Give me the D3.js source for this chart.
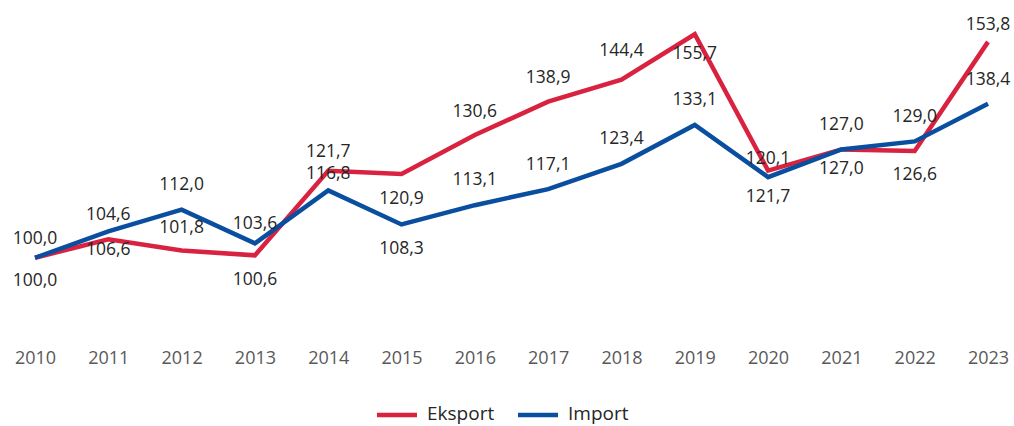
<!DOCTYPE html>
<html>
<head>
<meta charset="utf-8">
<script src="https://cdn.jsdelivr.net/npm/d3@7"></script>
<style>
  body { margin: 0; background: #fff; }
  svg { display: block; font-family: "Open Sans", sans-serif; }
</style>
</head>
<body>
<div id="chart"></div>
<script>
var years = ["2010", "2011", "2012", "2013", "2014", "2015", "2016",
             "2017", "2018", "2019", "2020", "2021", "2022", "2023"];
var eksport = [100.0, 104.6, 101.8, 100.6, 121.7, 120.9, 130.6,
               138.9, 144.4, 155.7, 121.7, 127.0, 126.6, 153.8];
var importV = [100.0, 106.6, 112.0, 103.6, 116.8, 108.3, 113.1,
               117.1, 123.4, 133.1, 120.1, 127.0, 129.0, 138.4];
var seriesNames = ["Eksport", "Import"];

// where each value label sits relative to its point (px, + = below)
var eksportLabelDy = [21, -26, -25, 23, -21, 23, -25, -26, -31, 18, 24, 18, 22, -19];
var importLabelDy = [-21, 17, -27, -21, -18, 23, -27, -26, -27, -27, -20, -26, -26, -26];

var W = 1014, H = 426;
var colors = ["#D9223F", "#0A4F9F"];

var svg = d3.select("#chart").append("svg")
        .attr("width", W)
        .attr("height", H);

var x = d3.scalePoint()
        .domain(years)
        .range([35, 988]);
var y = d3.scaleLinear()
        .domain([80, 160])
        .range([338, 17]);

var fmt = function(v) { return d3.format(".1f")(v).replace(".", ","); };

// x axis: labels only
var xAxis = d3.axisBottom(x).tickSize(0).tickPadding(0);
var xg = svg.append("g")
        .attr("transform", "translate(0,357)")
        .call(xAxis);
xg.select(".domain").remove();
xg.selectAll("text")
        .attr("dy", null)
        .attr("dominant-baseline", "central")
        .attr("fill", "#595959")
        .style("font-size", "18px")
        .style("font-family", "Open Sans");

var line = d3.line()
        .x(function(d, i) { return x(years[i]); })
        .y(function(d) { return y(d); });

var series = [eksport, importV];
var labelDy = [eksportLabelDy, importLabelDy];

series.forEach(function(s, k) {
        svg.append("path")
                .datum(s)
                .attr("fill", "none")
                .attr("stroke", colors[k])
                .attr("stroke-width", 4.5)
                .attr("stroke-linejoin", "miter")
                .attr("d", line);
});

series.forEach(function(s, k) {
        svg.append("g").selectAll("text")
                .data(s)
                .enter()
                .append("text")
                .attr("x", function(d, i) { return x(years[i]); })
                .attr("y", function(d, i) { return y(d) + labelDy[k][i]; })
                .attr("text-anchor", "middle")
                .attr("dominant-baseline", "central")
                .attr("fill", "#262626")
                .style("font-size", "17.5px")
                .text(fmt);
});

// legend
var legend = [{ name: seriesNames[0], x: 377 }, { name: seriesNames[1], x: 518 }];
legend.forEach(function(l, i) {
        svg.append("line")
                .attr("x1", l.x).attr("x2", l.x + 40)
                .attr("y1", 415).attr("y2", 415)
                .attr("stroke", colors[i])
                .attr("stroke-width", 4.5);
        svg.append("text")
                .attr("x", l.x + 50)
                .attr("y", 413)
                .attr("dominant-baseline", "central")
                .attr("fill", "#262626")
                .style("font-size", "19px")
                .text(l.name);
});
</script>
</body>
</html>
